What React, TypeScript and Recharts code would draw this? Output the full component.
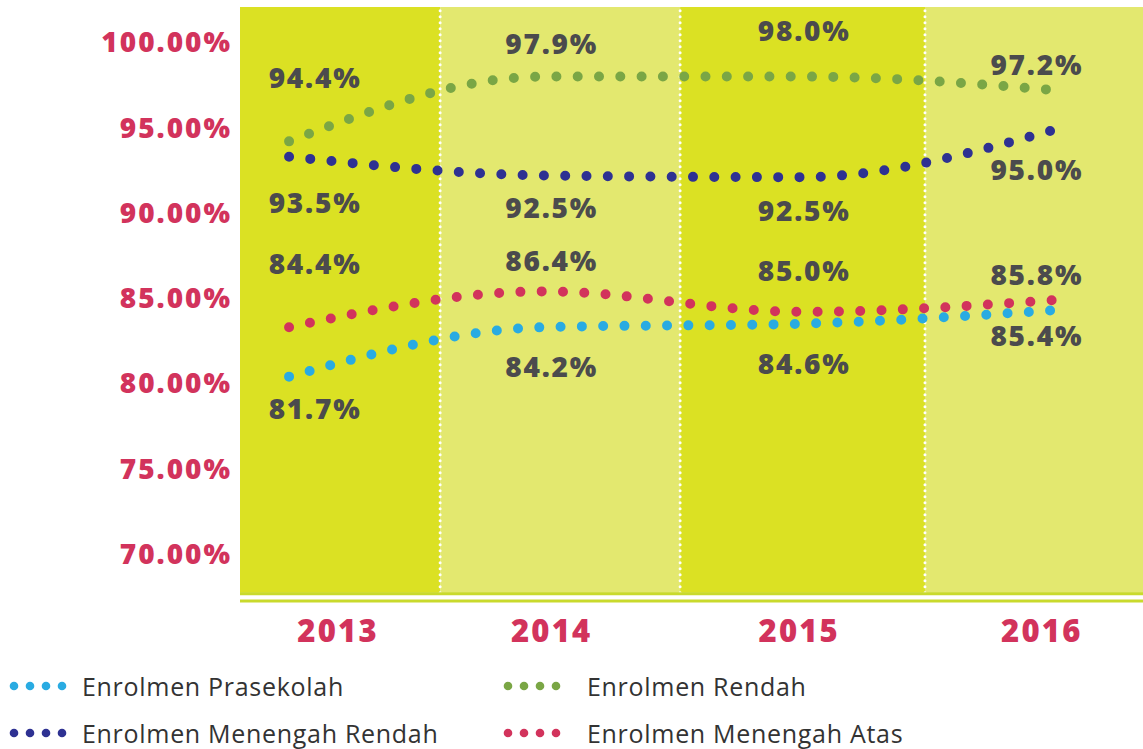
import React from "react";
import {
  LineChart,
  Line,
  XAxis,
  YAxis,
  ReferenceArea,
  ReferenceLine,
  LabelList,
} from "recharts";

// years and plotted values
const years = ["2013", "2014", "2015", "2016"];
const prasekolah = [80.4, 83.3, 83.5, 84.3];
const rendah = [94.2, 98.0, 98.0, 97.2];
const menengahRendah = [93.3, 92.2, 92.1, 94.9];
const menengahAtas = [83.3, 85.4, 84.2, 84.9];

// figures printed beside each point
const prasekolahLabels = ["81.7%", "84.2%", "84.6%", "85.4%"];
const rendahLabels = ["94.4%", "97.9%", "98.0%", "97.2%"];
const menengahRendahLabels = ["93.5%", "92.5%", "92.5%", "95.0%"];
const menengahAtasLabels = ["84.4%", "86.4%", "85.0%", "85.8%"];

const yTicks = [70, 75, 80, 85, 90, 95, 100];

const data = years.map((year, i) => ({
  x: i,
  year,
  prasekolah: prasekolah[i],
  rendah: rendah[i],
  menengahRendah: menengahRendah[i],
  menengahAtas: menengahAtas[i],
  prasekolahLabel: prasekolahLabels[i],
  rendahLabel: rendahLabels[i],
  menengahRendahLabel: menengahRendahLabels[i],
  menengahAtasLabel: menengahAtasLabels[i],
}));

const BOLD = "'Open Sans', 'DejaVu Sans', sans-serif";
const CRIMSON = "#d2335c";
const GREY = "#4b4b4d";
const BRIGHT = "#dbe123";
const PALE = "#e3e86f";
const AXIS_GREEN = "#c9da2c";

// plot geometry in data units
const X_DOMAIN: [number, number] = [-0.192, 3.341];
const Y_DOMAIN: [number, number] = [67.24, 102.08];
const BAND_FLOOR = 67.72;
const bandEdges = [-0.192, 0.591, 1.53, 2.488, 3.341];

// label placement relative to each point
const labelDx = [25, 6, 3, -20];
const yearDx = [48, 6, -2, -15];

const series = [
  { key: "rendah", name: "Enrolmen Rendah", color: "#7aa645", dy: [-63, -33, -46, -25] },
  { key: "menengahRendah", name: "Enrolmen Menengah Rendah", color: "#2e3192", dy: [46, 33, 34, 41] },
  { key: "menengahAtas", name: "Enrolmen Menengah Atas", color: "#d2335c", dy: [-63, -30, -41, -25] },
  { key: "prasekolah", name: "Enrolmen Prasekolah", color: "#29abe2", dy: [32, 40, 40, 26] },
];

const legendOrder = [
  ["prasekolah", "rendah"],
  ["menengahRendah", "menengahAtas"],
];

function YTick(props: any) {
  const { x, y, payload } = props;
  return (
    <text x={x + 2} y={y + 10} textAnchor="end" fill={CRIMSON} fontFamily={BOLD} fontWeight={800} fontSize={28} letterSpacing={2}>
      {payload.value.toFixed(2)}%
    </text>
  );
}

function XTick(props: any) {
  const { x, y, payload, index } = props;
  return (
    <text x={x + yearDx[index] + 1} y={y + 41} textAnchor="middle" fill={CRIMSON} fontFamily={BOLD} fontWeight={800} fontSize={31} letterSpacing={2.2}>
      {years[payload.value]}
    </text>
  );
}

function makeLabel(dy: number[]) {
  return (props: any) => {
    const { x, y, index, value } = props;
    return (
      <text x={x + labelDx[index] + 1} y={y + dy[index] + 10} textAnchor="middle" fill={GREY} fontFamily={BOLD} fontWeight={800} fontSize={28} letterSpacing={1.8}>
        {value}
      </text>
    );
  };
}

function Dots({ color }: { color: string }) {
  return (
    <svg width={64} height={12} style={{ display: "block" }}>
      {[0, 1, 2, 3].map((i) => (
        <circle key={i} cx={6 + i * 16} cy={6} r={4.3} fill={color} />
      ))}
    </svg>
  );
}

export default function App() {
  return (
    <div style={{ position: "absolute", left: 0, top: 0, width: 1143, height: 749, background: "#fff", overflow: "hidden" }}>
      <LineChart width={1143} height={660} data={data} margin={{ top: 7, right: 0, left: 0, bottom: 0 }}>
        {bandEdges.slice(0, -1).map((x1, i) => (
          <ReferenceArea
            key={i}
            x1={x1}
            x2={bandEdges[i + 1]}
            y1={BAND_FLOOR}
            y2={Y_DOMAIN[1]}
            fill={i % 2 === 0 ? BRIGHT : PALE}
            fillOpacity={1}
            stroke="none"
          />
        ))}
        {bandEdges.slice(1, -1).map((x, i) => (
          <ReferenceLine
            key={i}
            segment={[{ x, y: BAND_FLOOR }, { x, y: Y_DOMAIN[1] }]}
            stroke="#fff"
            strokeWidth={3}
            strokeDasharray="0 6"
            strokeLinecap="round"
          />
        ))}
        <ReferenceLine y={67.67} stroke={AXIS_GREEN} strokeWidth={3} />
        <XAxis
          dataKey="x"
          type="number"
          domain={X_DOMAIN}
          ticks={[0, 1, 2, 3]}
          allowDataOverflow
          height={59}
          axisLine={{ stroke: AXIS_GREEN, strokeWidth: 3 }}
          tickLine={false}
          tickSize={0}
          tickMargin={0}
          tick={<XTick />}
        />
        <YAxis
          type="number"
          domain={Y_DOMAIN}
          ticks={yTicks}
          allowDataOverflow
          width={240}
          axisLine={false}
          tickLine={false}
          tickSize={0}
          tickMargin={10}
          tick={<YTick />}
        />
        {series.map((s) => (
          <Line
            key={s.key}
            type="monotone"
            dataKey={s.key}
            name={s.name}
            stroke={s.color}
            strokeWidth={10}
            strokeDasharray="0 21.3"
            strokeLinecap="round"
            dot={false}
            activeDot={false}
            isAnimationActive={false}
          >
            <LabelList dataKey={s.key + "Label"} content={makeLabel(s.dy)} />
          </Line>
        ))}
      </LineChart>
      {legendOrder.map((row, r) =>
        row.map((key, c) => {
          const s = series.find((d) => d.key === key)!;
          return (
            <div
              key={key}
              style={{
                position: "absolute",
                left: c === 0 ? 8 : 502,
                top: 673 + r * 47,
                height: 26,
                lineHeight: "26px",
                display: "flex",
                alignItems: "center",
                fontFamily: "'Open Sans', sans-serif",
                fontSize: 25,
                letterSpacing: 0.7,
                color: "#333",
                whiteSpace: "nowrap",
              }}
            >
              <Dots color={s.color} />
              <span style={{ marginLeft: c === 0 ? 10 : 21 }}>{s.name}</span>
            </div>
          );
        })
      )}
    </div>
  );
}
